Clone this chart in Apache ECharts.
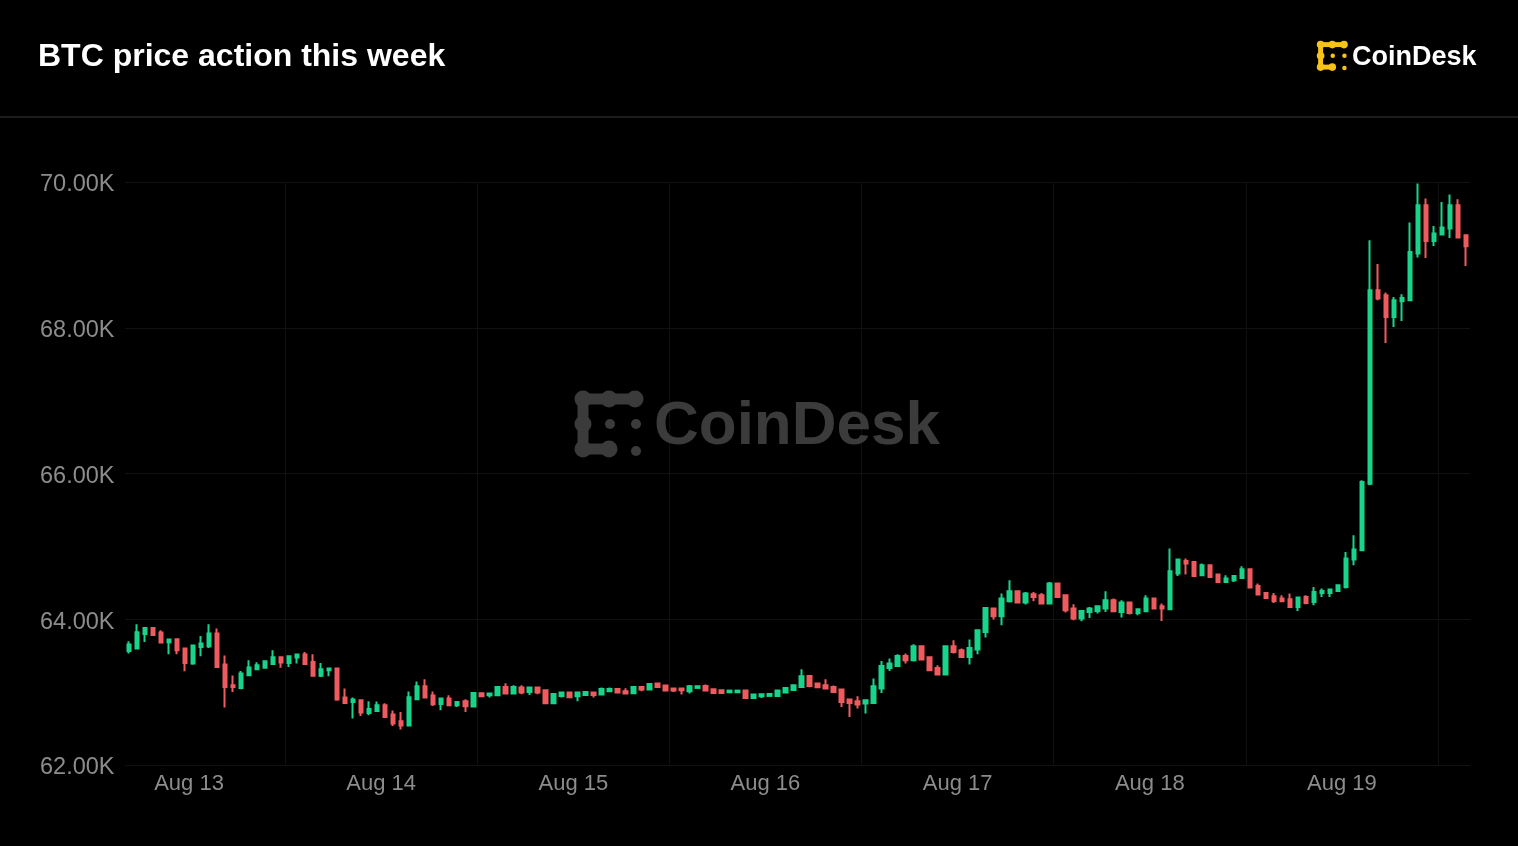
<!DOCTYPE html>
<html>
<head>
<meta charset="utf-8">
<script src="https://cdn.jsdelivr.net/npm/echarts@6/dist/echarts.min.js"></script>
<style>
html,body{margin:0;padding:0;background:#000;}
#chart{width:1518px;height:846px;}
</style>
</head>
<body>
<div id="chart"></div>
<script>
// ---- Data: hourly BTC candles (USD), first candle Aug 12 16:30 UTC ----
const titleText = 'BTC price action this week';
const dayLabels = ['Aug 13', 'Aug 14', 'Aug 15', 'Aug 16', 'Aug 17', 'Aug 18', 'Aug 19'];
const dayLabelHours = [0, 24, 48, 72, 96, 120, 144];      // hours from Aug 13 00:00
const middayHours = [12, 36, 60, 84, 108, 132, 156];      // vertical grid lines
const yTicks = [62000, 64000, 66000, 68000, 70000];
const firstCandleHour = -7.5;

const openPrices = [
63566,63598,63799,63881,63817,63685,63726,63598,63392,63620,63630,63804,63378,63094,63058,63232,63314,63333,63387,63479,
63401,63474,63515,63415,63223,63300,63323,62925,62866,62889,62715,62742,62820,62692,62600,62541,62902,63081,62953,62838,
62911,62820,62875,62802,62984,62957,62957,63071,62980,63062,63003,63062,63026,62847,62948,62994,62943,62962,62994,62966,
63012,63044,63012,62984,63071,63035,63117,63090,63049,63049,63012,63058,63085,63039,63026,62998,62998,63021,62921,62943,
62948,62948,62994,63030,63072,63222,63117,63094,63072,63035,62898,62875,62843,62852,63049,63332,63360,63497,63438,63630,
63479,63332,63241,63629,63575,63483,63584,63826,64146,64041,64247,64384,64229,64343,64329,64215,64489,64329,64146,64009,
64101,64114,64146,64261,64101,64229,64087,64110,64284,64178,64137,64627,64800,64787,64604,64741,64613,64512,64535,64567,
64686,64457,64361,64316,64284,64274,64169,64306,64238,64361,64361,64389,64444,64819,64947,65861,68514,68446,68148,68363,
68377,69018,69681,69191,69278,69361,69681,69269];
const closePrices = [
63653,63822,63881,63785,63680,63721,63575,63401,63639,63666,63804,63346,63071,63071,63254,63337,63369,63424,63479,63406,
63492,63515,63387,63223,63314,63323,62898,62852,62898,62719,62770,62820,62660,62568,62541,62930,63081,62925,62834,62911,
62820,62866,62806,62989,62943,62980,63071,62980,63071,62994,63062,62994,62847,62975,62994,62930,62994,63003,62962,63044,
63044,62994,62980,63071,63035,63113,63072,63021,63021,63026,63081,63081,63021,62989,62989,63021,63021,62921,62966,62971,
62975,63021,63058,63094,63218,63085,63067,63049,63003,62866,62852,62829,62888,63081,63360,63392,63497,63438,63630,63447,
63300,63241,63630,63552,63483,63607,63849,64155,64041,64284,64384,64229,64352,64306,64215,64489,64306,64124,64009,64114,
64146,64178,64261,64110,64229,64087,64137,64284,64146,64146,64659,64819,64764,64595,64741,64581,64512,64558,64595,64686,
64435,64338,64293,64252,64247,64169,64297,64224,64375,64389,64407,64467,64832,64956,65884,68514,68400,68148,68377,68409,
69040,69681,69191,69292,69374,69681,69237,69118];
const lowPrices = [
63529,63589,63689,63785,63671,63520,63520,63287,63374,63492,63607,63346,62788,63003,63039,63232,63300,63323,63387,63333,
63346,63392,63387,63223,63209,63218,62880,62852,62637,62674,62683,62742,62660,62536,62486,62541,62902,62925,62811,62751,
62820,62797,62728,62802,62934,62925,62957,62980,62980,62971,62962,62971,62847,62847,62925,62930,62875,62952,62925,62966,
63003,62994,62980,62984,63012,63035,63072,63021,63003,62966,62980,63058,63021,62989,62980,62998,62998,62907,62921,62921,
62948,62948,62994,63030,63072,63067,63067,63049,62989,62797,62660,62774,62706,62852,62989,63291,63360,63392,63419,63447,
63291,63232,63241,63529,63469,63378,63520,63748,63995,63918,64229,64229,64201,64247,64215,64215,64297,64091,63986,63973,
64018,64078,64101,64101,64023,64064,64055,64110,64146,63977,64137,64595,64613,64595,64604,64581,64512,64512,64512,64567,
64435,64329,64293,64224,64238,64169,64114,64206,64192,64306,64306,64389,64421,64741,64947,65838,68377,67792,68011,68094,
68363,68963,68958,69123,69278,69233,69223,68848];
const highPrices = [
63698,63932,63881,63881,63849,63721,63740,63598,63639,63771,63932,63872,63502,63227,63291,63438,63410,63438,63575,63479,
63492,63529,63552,63520,63401,63323,63323,63049,62925,62889,62875,62870,62847,62747,62728,63007,63145,63177,63007,62911,
62957,62866,62902,62998,62998,62980,63071,63122,63094,63094,63062,63062,63026,62975,62994,62994,62994,63016,62994,63062,
63062,63044,63053,63071,63071,63113,63117,63090,63049,63049,63099,63081,63104,63039,63035,63021,63021,63021,62966,62971,
62975,63021,63058,63094,63314,63222,63126,63177,63090,63035,62898,62943,62898,63186,63428,63460,63520,63529,63657,63630,
63492,63369,63630,63712,63597,63721,63849,64169,64146,64352,64535,64384,64375,64375,64361,64512,64503,64329,64206,64114,
64169,64192,64384,64284,64261,64229,64146,64329,64284,64215,64970,64833,64833,64787,64764,64741,64613,64604,64595,64727,
64686,64489,64375,64361,64329,64352,64297,64329,64444,64421,64407,64467,64924,65153,65907,69201,68875,68485,68423,68459,
69443,69978,69772,69397,69727,69827,69763,69269];

// ---- Build series data from the arrays ----
const candleHours = openPrices.map((_, i) => firstCandleHour + i);
const candleData = openPrices.map((o, i) => [candleHours[i], o, closePrices[i], lowPrices[i], highPrices[i]]);

const UP = '#19d48b';
const DOWN = '#ef5b5e';

function coinDeskIcon(x, y, s, color, z) {
  const big = 8.5, thick = 11, small = 5;
  const ch = [];
  const dot = (cx, cy, r) => ch.push({ type: 'circle', shape: { cx, cy, r }, style: { fill: color } });
  const bar = (x0, y0, w, h) => ch.push({ type: 'rect', shape: { x: x0, y: y0, width: w, height: h }, style: { fill: color } });
  dot(8, 8, big); dot(34, 8, big); dot(60, 8, big);
  bar(8, 8 - thick / 2, 52, thick);
  dot(8, 33, big); dot(8, 58, big);
  bar(8 - thick / 2, 8, thick, 50);
  dot(34, 58, big);
  bar(8, 58 - thick / 2, 26, thick);
  dot(35, 33, small); dot(61, 33, small); dot(61, 60, small);
  return { type: 'group', x, y, scaleX: s, scaleY: s, z, silent: true, children: ch };
}

const chart = echarts.init(document.getElementById('chart'), null, { renderer: 'canvas' });
chart.setOption({
  backgroundColor: '#000',
  animation: false,
  grid: { left: 125, right: 48, top: 182, bottom: 81 },
  xAxis: {
    type: 'value',
    min: -8,
    max: 160,
    axisLine: { show: false },
    axisTick: { show: false, customValues: middayHours },
    splitLine: { show: true, lineStyle: { color: '#101010', width: 1 } },
    axisLabel: {
      customValues: dayLabelHours,
      formatter: v => dayLabels[dayLabelHours.indexOf(v)] || '',
      color: '#8c8c8c',
      fontSize: 22,
      fontFamily: 'Liberation Sans, Arial, sans-serif',
      margin: 8
    }
  },
  yAxis: {
    type: 'value',
    min: yTicks[0],
    max: yTicks[yTicks.length - 1],
    interval: 2000,
    axisLine: { show: false },
    axisTick: { show: false },
    splitLine: { show: true, lineStyle: { color: '#111111', width: 1 } },
    axisLabel: {
      formatter: v => '{t|' + (v / 1000).toFixed(2) + 'K}',
      rich: {
        t: {
          color: '#8c8c8c',
          fontSize: 23.5,
          fontFamily: 'Liberation Sans, Arial, sans-serif',
          padding: [6, 0, 0, 0]
        }
      },
      align: 'left',
      verticalAlign: 'middle',
      margin: 85
    }
  },
  series: [{
    type: 'candlestick',
    data: candleData,
    encode: { x: 0, y: [1, 2, 3, 4] },
    barWidth: 4,
    z: 5,
    itemStyle: {
      color: UP,
      color0: DOWN,
      borderColor: UP,
      borderColor0: DOWN,
      borderWidth: 2
    }
  }],
  graphic: [
    {
      type: 'text', left: 38, top: 41, z: 10,
      style: { text: titleText, fill: '#ffffff', font: 'bold 32px "Liberation Sans", Arial, sans-serif' }
    },
    {
      type: 'rect', left: 0, top: 116, z: 10,
      shape: { width: 1518, height: 2 },
      style: { fill: '#1c1c1c' }
    },
    coinDeskIcon(1317, 41, 0.45, '#f7c21a', 10),
    {
      type: 'text', left: 1352, top: 44, z: 10,
      style: { text: 'CoinDesk', fill: '#ffffff', font: 'bold 27px "Liberation Sans", Arial, sans-serif' }
    },
    coinDeskIcon(575, 391, 1, '#3b3b3b', 1),
    {
      type: 'text', left: 654, top: 396, z: 1,
      style: { text: 'CoinDesk', fill: '#3b3b3b', font: 'bold 62px "Liberation Sans", Arial, sans-serif' }
    }
  ]
});
</script>
</body>
</html>
